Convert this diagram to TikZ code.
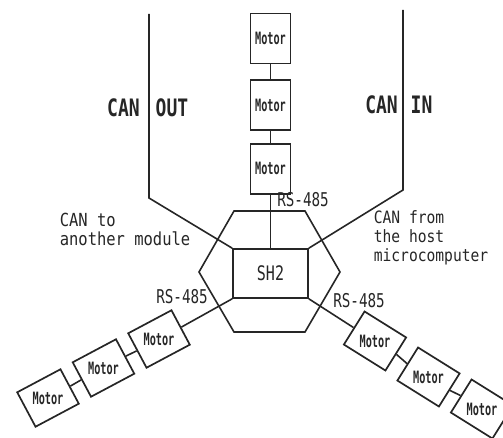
\documentclass[tikz,border=0pt]{standalone}
\usepackage{fontspec}
\usetikzlibrary{positioning}
\newfontfamily\gothic[FakeStretch=0.75]{DejaVu Sans Mono}
\newfontfamily\motorfont[FakeStretch=0.6]{DejaVu Sans Mono}
\newfontfamily\notefont[FakeStretch=0.86]{DejaVu Sans Mono}

\begin{document}
\begin{tikzpicture}[
  x=1pt, y=-1pt,
  every path/.style={line width=1.6pt, black!85},
  motor/.style={draw, line width=1.7pt, minimum width=40pt, minimum height=50pt, inner sep=0pt, font=\motorfont\fontsize{17}{17}\selectfont\bfseries},
  tilted/.style={motor, minimum width=49pt, minimum height=39pt},
  canlabel/.style={font=\gothic\fontsize{24}{24}\selectfont\bfseries, inner sep=0pt},
  rslabel/.style={font=\gothic\fontsize{19}{19}\selectfont, inner sep=0pt},
  note/.style={font=\notefont\fontsize{18}{19}\selectfont, align=left, inner sep=0pt}
]
  \useasboundingbox (0,0) rectangle (503,438);

  % top chain
  \node[motor] (mt1) at (270.5,38.5) {Motor};
  \node[motor, below=15pt of mt1] (mt2) {Motor};
  \node[motor, below=12pt of mt2] (mt3) {Motor};

  % controller
  \node[draw, minimum width=75pt, minimum height=49pt, inner sep=0pt, font=\gothic\fontsize{20}{20}\selectfont] (sh2) at (270.5,273.5) {SH2};
  \draw (234,211) -- (305,211) -- (340,272) -- (305,332) -- (234,332) -- (199,272) -- cycle;

  % lower left chain
  \node[tilted, rotate=28] (ml1) at (159,339) {\rotatebox{-28}{Motor}};
  \node[tilted, rotate=28] (ml2) at (103.5,368) {\rotatebox{-28}{Motor}};
  \node[tilted, rotate=28] (ml3) at (48,398) {\rotatebox{-28}{Motor}};

  % lower right chain
  \node[tilted, rotate=-32] (mr1) at (375,341) {\rotatebox{32}{Motor}};
  \node[tilted, rotate=-32] (mr2) at (428.5,377) {\rotatebox{32}{Motor}};
  \node[tilted, rotate=-32] (mr3) at (482,409) {\rotatebox{32}{Motor}};

  % CAN bus ends
  \coordinate (outtop) at (149,14);
  \coordinate (outbend) at (149,198);
  \coordinate (intop) at (403,10);
  \coordinate (inbend) at (403,190);

  \draw (outtop) -- (outbend) -- (sh2.north west);
  \draw (intop) -- (inbend) -- (sh2.north east);

  \draw (mt1) -- (mt2);
  \draw (mt2) -- (mt3);
  \draw (mt3) -- (sh2);
  \draw (sh2.south west) -- (ml1.east);
  \draw (ml1.west) -- (ml2.east);
  \draw (ml2.west) -- (ml3.east);
  \draw (sh2.south east) -- (mr1.west);
  \draw (mr1.east) -- (mr2.west);
  \draw (mr2.east) -- (mr3.west);

  % labels
  \node[canlabel] (canout) at (123.5,108) {CAN};
  \node[canlabel] (out) at (172,108) {OUT};
  \node[canlabel] (canin) at (381.5,105) {CAN};
  \node[canlabel] (in) at (421.5,105) {IN};
  \node[rslabel] (rstop) at (303,200) {RS-485};
  \node[rslabel] (rsleft) at (182,297) {RS-485};
  \node[rslabel] (rsright) at (359,301) {RS-485};
  \node[note, anchor=north west] (canto) at (59,212) {CAN to\\another module};
  \node[note, font=\notefont\fontsize{17}{19}\selectfont, anchor=north west] (canfrom) at (373,210) {CAN from\\the host\\microcomputer};
\end{tikzpicture}
\end{document}
